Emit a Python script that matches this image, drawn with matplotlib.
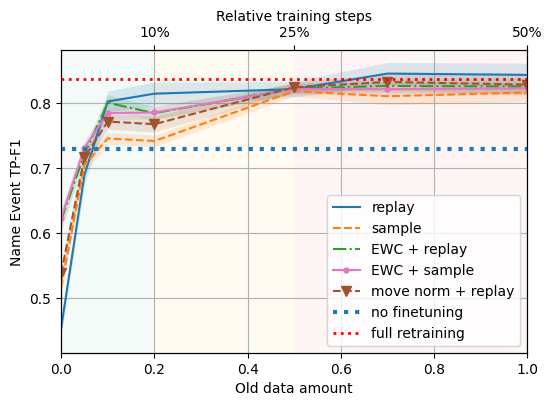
import numpy as np
import matplotlib
matplotlib.use("Agg")
import matplotlib.pyplot as plt

# old data amount
x = [0.0, 0.05, 0.1, 0.2, 0.5, 0.7, 1.0]

replay = [0.454, 0.690, 0.803, 0.815, 0.822, 0.846, 0.844]
replay_std = [0.012, 0.015, 0.016, 0.018, 0.012, 0.017, 0.018]
sample = [0.517, 0.705, 0.746, 0.742, 0.819, 0.811, 0.817]
sample_std = [0.012, 0.012, 0.009, 0.009, 0.008, 0.013, 0.014]
ewc_replay = [0.620, 0.722, 0.801, 0.785, 0.823, 0.827, 0.826]
ewc_replay_std = [0.015, 0.012, 0.012, 0.010, 0.008, 0.010, 0.012]
ewc_sample = [0.623, 0.732, 0.785, 0.786, 0.822, 0.822, 0.823]
ewc_sample_std = [0.015, 0.012, 0.010, 0.010, 0.008, 0.010, 0.010]
move_norm = [0.538, 0.717, 0.772, 0.768, 0.825, 0.833, 0.829]
move_norm_std = [0.012, 0.012, 0.012, 0.012, 0.008, 0.012, 0.015]

no_finetuning = 0.729
full_retraining = 0.838

top_ticks = [0.2, 0.5, 1.0]
top_labels = ["10%", "25%", "50%"]

fig = plt.figure(figsize=(5.51, 4.05), dpi=100)
ax = fig.add_axes([0.111, 0.128, 0.846, 0.748])

ax.axvspan(0.0, 0.2, color="#f3faf8", zorder=0)
ax.axvspan(0.2, 0.5, color="#fffbf3", zorder=0)
ax.axvspan(0.5, 1.0, color="#fcf5f4", zorder=0)

series = [
    (replay, replay_std, "replay", "tab:blue", "-", None),
    (sample, sample_std, "sample", "tab:orange", "--", None),
    (ewc_replay, ewc_replay_std, "EWC + replay", "tab:green", "-.", None),
    (ewc_sample, ewc_sample_std, "EWC + sample", "tab:pink", "-", "."),
    (move_norm, move_norm_std, "move norm + replay", "sienna", "--", "v"),
]
for vals, std, label, c, ls, mk in series:
    vals = np.array(vals)
    std = np.array(std)
    ax.plot(x, vals, color=c, linestyle=ls, marker=mk, markersize=7,
            label=label, zorder=3)
    ax.fill_between(x, vals - std, vals + std, color=c, alpha=0.15, linewidth=0, zorder=2)

ax.axhline(no_finetuning, color="tab:blue", linestyle=":", linewidth=3, label="no finetuning", zorder=3)
ax.axhline(full_retraining, color="red", linestyle=":", linewidth=2, label="full retraining", zorder=3)

ax.set_xlim(0, 1)
ax.set_ylim(0.415, 0.882)
ax.set_yticks([0.5, 0.6, 0.7, 0.8])
ax.grid(True, color="#b0b0b0", zorder=1)
ax.set_axisbelow(True)
ax.set_xlabel("Old data amount")
ax.set_ylabel("Name Event TP-F1")
ax.legend(loc="lower right")

ax2 = ax.twiny()
ax2.set_xlim(ax.get_xlim())
ax2.set_xticks(top_ticks)
ax2.set_xticklabels(top_labels)
ax2.set_xlabel("Relative training steps")

fig.savefig("out.png", dpi=100)
